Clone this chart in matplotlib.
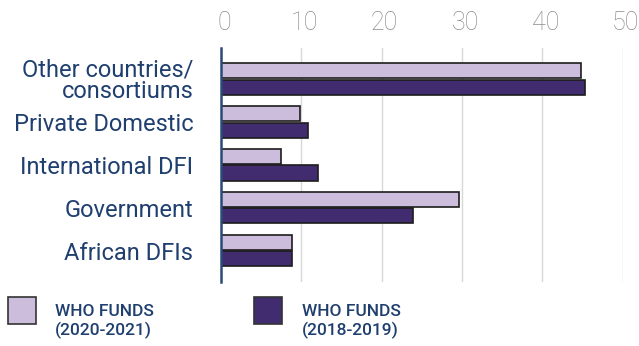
import matplotlib
matplotlib.use("Agg")
import numpy as np
import matplotlib.pyplot as plt
from matplotlib.patches import Rectangle
from matplotlib.transforms import ScaledTranslation

plt.rcParams['font.family'] = ['Roboto', 'DejaVu Sans']

categories = ["Other countries/\nconsortiums", "Private Domestic",
              "International DFI", "Government", "African DFIs"]
funds_2020_2021 = [44.8, 9.9, 7.5, 29.7, 8.9]
funds_2018_2019 = [45.3, 10.8, 12.1, 23.9, 8.8]
series_labels = ["WHO FUNDS\n(2020-2021)", "WHO FUNDS\n(2018-2019)"]
xticks = [0, 10, 20, 30, 40, 50]

LIGHT = "#ccbddd"
DARK = "#412c70"
EDGE = "#1c1c1c"
NAVY = "#1f3f6f"

W, H = 639, 346
fig = plt.figure(figsize=(W / 100, H / 100), dpi=100)
ax = fig.add_axes([221 / W, 1 - 282 / H, 401.5 / W, 234.3 / H])

y = np.arange(len(categories))
bh = 0.35
ax.barh(y - 0.19, funds_2020_2021, height=bh, color=LIGHT,
        edgecolor=EDGE, linewidth=1.2, zorder=3)
ax.barh(y + 0.19, funds_2018_2019, height=bh, color=DARK,
        edgecolor=EDGE, linewidth=1.2, zorder=3)

ax.set_xlim(0, 50)
ax.set_ylim(len(categories) - 1 + 0.73, -0.73)

# value axis on top, grey light numbers
ax.xaxis.tick_top()
ax.set_xticks(xticks)
ax.set_xticklabels([str(t) for t in xticks], fontsize=18, color="#8c8c8c",
                   fontweight="light")
ax.tick_params(axis="x", length=0, pad=9)
shift = ScaledTranslation(3 / 100, 0, fig.dpi_scale_trans)
for lbl in ax.get_xticklabels():
    lbl.set_transform(lbl.get_transform() + shift)

ax.set_yticks(y)
ax.set_yticklabels(categories, fontsize=17, color=NAVY, linespacing=0.9)
ax.tick_params(axis="y", length=0, pad=20)

ax.grid(axis="x", color="#d8d8d8", linewidth=1.0, zorder=0)
ax.set_axisbelow(True)
for s in ["top", "right", "bottom"]:
    ax.spines[s].set_visible(False)
ax.spines["left"].set_color("#2b4a7a")
ax.spines["left"].set_linewidth(1.8)
ax.spines["left"].set_zorder(4)

# legend drawn below the plot
for x0, tx, col, lab in [(8, 55, LIGHT, series_labels[0]),
                         (254, 302, DARK, series_labels[1])]:
    fig.patches.append(Rectangle((x0 / W, 1 - 324 / H), 28 / W, 27 / H,
                                 transform=fig.transFigure, facecolor=col,
                                 edgecolor="#333333", linewidth=1.2))
    fig.text(tx / W, 1 - 304 / H, lab, fontsize=12.5, color=NAVY,
             fontweight="medium", va="top", ha="left", linespacing=1.25)

fig.savefig("out.png", dpi=100)
